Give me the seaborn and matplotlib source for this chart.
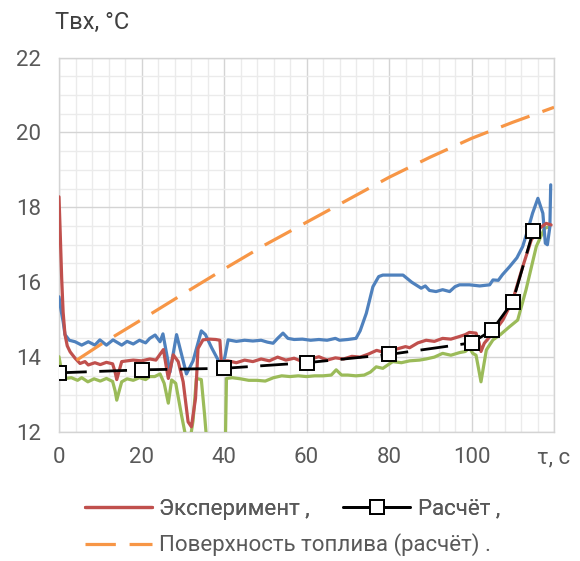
import numpy as np
import pandas as pd
import matplotlib
matplotlib.use("Agg")
import matplotlib.pyplot as plt
from matplotlib.lines import Line2D
from matplotlib.ticker import MultipleLocator
import seaborn as sns

# ---------------- data ----------------
red_t = [0, 0.3, 0.65, 1.0, 1.45, 2.0, 2.7, 3.9, 5.1, 6.3, 7.1, 8.7, 10, 11.5, 13, 13.6, 14, 14.5,
         15.2, 16.5, 18, 20, 22, 23.5, 25.3, 26.5, 27.7, 28.9, 30.1, 31.3, 32.1, 33.1, 33.7, 34.9,
         36.5, 38, 39, 39.4, 40.2, 41, 43, 45, 47, 49, 51, 53, 55, 57, 59, 61, 63, 65, 67, 69, 71,
         73, 75, 77, 79, 80.1, 82, 84, 85, 87, 89, 91, 93, 95, 97.1, 98.5, 99.5, 101.1, 101.8,
         102.3, 103.1, 104.4, 106, 107.6, 110, 112.4, 114.5, 116.5, 118.1, 119.3]
red_y = [18.28, 17.3, 16.1, 15.2, 14.6, 14.3, 14.14, 13.97, 13.83, 13.88, 13.79, 13.85, 13.8, 13.86,
         13.82, 13.6, 13.4, 13.6, 13.88, 13.9, 13.92, 13.9, 13.95, 13.92, 14.2, 13.43, 14.06, 13.88,
         13.34, 12.27, 12.14, 12.9, 14.23, 14.46, 14.48, 14.47, 14.45, 13.8, 13.9, 13.9, 13.85,
         13.92, 13.88, 13.95, 13.9, 14.0, 13.92, 13.97, 13.88, 13.95, 14.01, 13.92, 13.98, 13.95,
         14.02, 14.0, 14.08, 14.18, 14.12, 14.19, 14.22, 14.28, 14.25, 14.38, 14.45, 14.42, 14.5,
         14.48, 14.55, 14.6, 14.66, 14.64, 14.4, 14.15, 14.37, 14.54, 14.75, 14.99, 15.52, 16.41,
         17.13, 17.44, 17.57, 17.53]

blue_t = [0, 0.5, 1.0, 1.45, 2.5, 3.9, 5.5, 7.1, 8.7, 9.9, 11.5, 13.1, 15.2, 16.5, 18, 19.5, 21,
          22, 23.3, 24.5, 25.2, 26.9, 28.5, 30.9, 32.5, 34.5, 35.5, 37, 39.4, 40.2, 41, 43, 45, 47,
          49, 50.5, 51.9, 53, 54.3, 55.5, 57, 59, 61, 63, 65, 67, 68, 70, 72, 73, 74.5, 76.1, 77.5,
          78.5, 83.4, 85.5, 87.8, 88.8, 89.8, 91.4, 93, 94.7, 96, 97.1, 99.5, 102, 104.4, 105.2,
          106.5, 107.5, 109.2, 111, 112.4, 113.8, 114.8, 116.1, 117.3, 117.9, 118.4, 119, 119.2]
blue_y = [15.61, 15.25, 14.95, 14.6, 14.45, 14.41, 14.32, 14.41, 14.32, 14.46, 14.32, 14.46, 14.32,
          14.42, 14.35, 14.45, 14.38, 14.5, 14.59, 14.41, 14.62, 13.6, 14.6, 13.55, 13.9, 14.7,
          14.6, 14.25, 13.75, 14.0, 14.46, 14.42, 14.45, 14.43, 14.45, 14.4, 14.37, 14.5, 14.64,
          14.5, 14.47, 14.48, 14.45, 14.47, 14.45, 14.5, 14.45, 14.47, 14.5, 14.7, 15.17, 15.88,
          16.15, 16.19, 16.19, 16.0, 15.84, 15.9, 15.78, 15.75, 15.8, 15.75, 15.88, 15.93, 15.93,
          15.9, 15.93, 16.06, 16.05, 16.2, 16.41, 16.65, 16.95, 17.45, 17.84, 18.24, 17.84, 17.04,
          17.0, 17.48, 18.6]

green_t = [0, 0.5, 1.45, 3, 4.5, 5.5, 7, 8.5, 10, 11.5, 13, 13.6, 14, 14.6, 15.2, 16.5, 18, 19.5,
           21, 22, 23.2, 24.5, 25.5, 26.5, 27.3, 28.3, 29.7, 30.5, 31.5, 32.5, 33.3, 34.5, 35.3, 36,
           40.3, 40.6, 42, 44, 46, 48, 50, 52, 54, 56, 58, 60, 62, 64, 66, 67.2, 68.5, 70, 72, 74,
           75.5, 76.9, 78.5, 80.9, 83, 85, 87.4, 89, 91, 93, 95, 97.1, 98.5, 99.5, 100.3, 101.1,
           101.7, 102.3, 103, 103.6, 105.2, 107, 109.2, 111.2, 113.2, 115.7, 117.7, 118.9]
green_y = [14.01, 13.7, 13.43, 13.45, 13.38, 13.45, 13.34, 13.42, 13.36, 13.43, 13.35, 13.1, 12.85,
           13.1, 13.34, 13.42, 13.38, 13.45, 13.4, 13.48, 13.48, 13.55, 13.3, 12.77, 13.39, 13.3,
           12.45, 12.0, 11.6, 12.3, 13.43, 13.4, 12.45, 11.5, 11.5, 13.43, 13.45, 13.42, 13.38,
           13.38, 13.36, 13.45, 13.5, 13.48, 13.5, 13.48, 13.5, 13.5, 13.52, 13.66, 13.52, 13.52,
           13.5, 13.52, 13.6, 13.74, 13.7, 13.88, 13.85, 13.9, 13.92, 13.95, 14.0, 14.1, 14.05,
           14.12, 14.15, 14.25, 14.1, 14.05, 13.7, 13.34, 13.8, 14.19, 14.46, 14.6, 14.81, 14.99,
           15.79, 16.95, 17.44, 17.48]

calc_t = [0, 20, 40, 60, 80, 100, 105, 110, 115]
calc_y = [13.58, 13.66, 13.7, 13.85, 14.07, 14.38, 14.72, 15.48, 17.38]

surf_t = [4.3, 10, 20, 30, 40, 50, 60, 70, 80, 90, 100, 110, 120]
surf_y = [13.92, 14.33, 15.0, 15.68, 16.35, 17.0, 17.6, 18.2, 18.8, 19.34, 19.84, 20.27, 20.67]

x_ticks = [0, 20, 40, 60, 80, 100, 120]
x_labels = ["0", "20", "40", "60", "80", "100", "τ, с"]
y_ticks = [12, 14, 16, 18, 20, 22]

y_title = "Твх, °С"
label_exp = "Эксперимент ,"
label_calc = "Расчёт ,"
label_surf = "Поверхность топлива (расчёт) ."

# ---------------- styling ----------------
sns.set_theme(style="white")
plt.rcParams["font.family"] = ["Roboto", "DejaVu Sans"]

C_RED = "#C0504D"
C_BLUE = "#4F81BD"
C_GREEN = "#9BBB59"
C_ORANGE = "#F79646"
TXT = "#595959"
FS = 16

fig = plt.figure(figsize=(5.8, 5.61), dpi=100)
ax = fig.add_axes([59 / 580, 1 - 432 / 561, (554 - 59) / 580, (432 - 57.5) / 561])

df_red = pd.DataFrame({"t": red_t, "v": red_y})
df_blue = pd.DataFrame({"t": blue_t, "v": blue_y})
df_green = pd.DataFrame({"t": green_t, "v": green_y})
df_calc = pd.DataFrame({"t": calc_t, "v": calc_y})
df_surf = pd.DataFrame({"t": surf_t, "v": surf_y})

LW = 2.3
sns.lineplot(data=df_green, x="t", y="v", ax=ax, color=C_GREEN, lw=LW, sort=False,
             estimator=None, zorder=3)
sns.lineplot(data=df_blue, x="t", y="v", ax=ax, color=C_BLUE, lw=LW, sort=False,
             estimator=None, zorder=3)
sns.lineplot(data=df_red, x="t", y="v", ax=ax, color=C_RED, lw=LW, sort=False,
             estimator=None, zorder=4)
sns.lineplot(data=df_surf, x="t", y="v", ax=ax, color=C_ORANGE, lw=LW, sort=False,
             estimator=None, zorder=4, linestyle=(0, (9.5, 4.3)))
sns.lineplot(data=df_calc, x="t", y="v", ax=ax, color="black", lw=2.0, sort=False,
             estimator=None, zorder=5, linestyle=(0, (10, 4.5)),
             marker="s", markersize=9.5, markerfacecolor="white",
             markeredgecolor="black", markeredgewidth=1.4)

ax.set_xlim(0, 120)
ax.set_ylim(12, 22)
ax.set_xlabel("")
ax.set_ylabel("")

ax.set_xticks(x_ticks)
ax.set_xticklabels(x_labels)
ax.set_yticks(y_ticks)
ax.xaxis.set_minor_locator(MultipleLocator(4))
ax.yaxis.set_minor_locator(MultipleLocator(0.5))
ax.grid(which="major", color="#D4D4D4", lw=1.0, zorder=0)
ax.grid(which="minor", color="#EBEBEB", lw=1.0, zorder=0)
ax.set_axisbelow(True)
for s in ax.spines.values():
    s.set_color("#D4D4D4")
    s.set_linewidth(1.0)
ax.tick_params(axis="both", which="both", length=0, labelsize=FS, labelcolor=TXT)
ax.tick_params(axis="y", pad=13)
ax.tick_params(axis="x", pad=11)

fig.text(55 / 580, 1 - 22 / 561, y_title, fontsize=17, color="#404040",
         ha="left", va="center")

h_exp = Line2D([], [], color=C_RED, lw=LW)
h_calc = Line2D([], [], color="black", lw=2.0, marker="s", markersize=9.5,
                markerfacecolor="white", markeredgecolor="black", markeredgewidth=1.4)
h_surf = Line2D([], [], color=C_ORANGE, lw=LW, linestyle=(0, (9.5, 4.3)))

leg1 = fig.legend([h_exp, h_calc], [label_exp, label_calc], ncol=2, frameon=False,
                  loc="center left", bbox_to_anchor=(85 / 580, 1 - 509 / 561),
                  fontsize=FS, handlelength=3.0, handletextpad=0.35, columnspacing=1.5,
                  borderaxespad=0, borderpad=0)
for t in leg1.get_texts():
    t.set_color(TXT)
leg2 = fig.legend([h_surf], [label_surf], frameon=False,
                  loc="center left", bbox_to_anchor=(85 / 580, 1 - 545 / 561),
                  fontsize=FS, handlelength=3.0, handletextpad=0.35,
                  borderaxespad=0, borderpad=0)
for t in leg2.get_texts():
    t.set_color(TXT)
fig.add_artist(leg1)

fig.savefig("out.png", dpi=100)
